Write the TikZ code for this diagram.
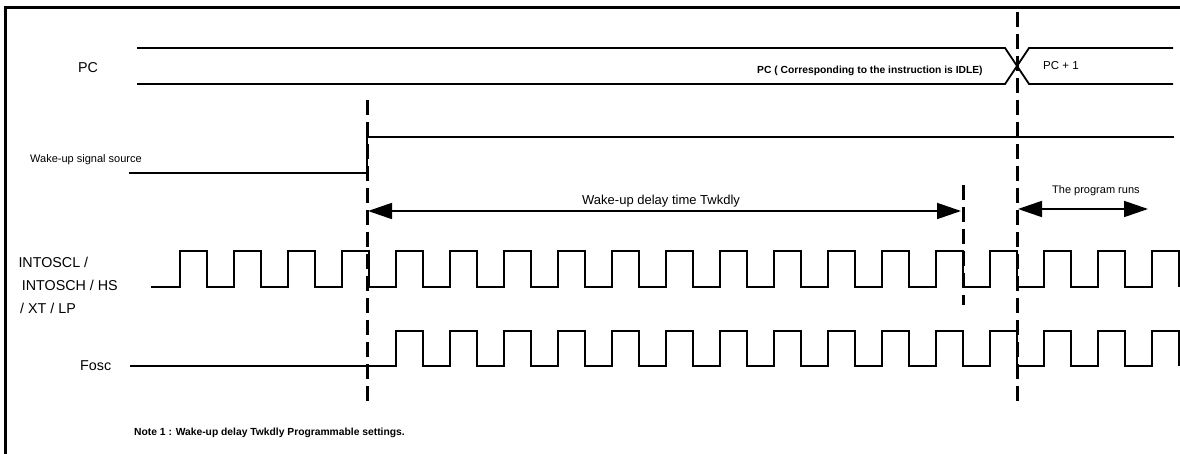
\documentclass[tikz,border=0pt]{standalone}
\usepackage{fontspec}
\setmainfont{Liberation Sans}
\usetikzlibrary{arrows.meta}
\begin{document}
\begin{tikzpicture}[x=1pt,y=-1pt,
  frame/.style={line width=3pt},
  sig/.style={line width=1.8pt, line join=miter},
  bus/.style={line width=1.8pt},
  vdash/.style={line width=3pt, dash pattern=on 15pt off 7pt},
  dim/.style={line width=1.8pt, {Triangle[length=24pt,width=16pt]}-{Triangle[length=24pt,width=16pt]}},
  lab/.style={anchor=base west, inner sep=0pt, font=\fontsize{14.3}{16}\selectfont},
  slab/.style={anchor=base west, inner sep=0pt, font=\fontsize{11}{13}\selectfont},
  blab/.style={anchor=base west, inner sep=0pt, font=\fontsize{10.3}{12}\selectfont\bfseries}]
\useasboundingbox (0,0) rectangle (1180,454);
\fill[white] (0,0) rectangle (1180,454);
% frame (top and left edges visible)
\draw[frame] (5,454) -- (5,8) -- (1180,8);

% labels
\node[lab] (lpc) at (78,72.7) {PC};
\node[slab] (lwk) at (30,162.3) {Wake-up signal source};
\node[lab] (lin1) at (18.3,267.3) {INTOSCL /};
\node[lab] (lin2) at (21.7,290.7) {INTOSCH / HS};
\node[lab] (lin3) at (20,313.3) {/ XT / LP};
\node[lab] (lfo) at (80,370) {Fosc};
\node[blab] (lidle) at (757,73.3) {PC ( Corresponding to the instruction is IDLE)};
\node[anchor=base west, inner sep=0pt, font=\fontsize{11.5}{13}\selectfont] (lpc1) at (1043,70) {PC + 1};
\node[anchor=base west, inner sep=0pt, font=\fontsize{13}{15}\selectfont] (ldly) at (582,204.3) {Wake-up delay time Twkdly};
\node[slab] (lrun) at (1052,194) {The program runs};
\node[blab] (lnote) at (134,435.5) {Note 1 : Wake-up delay Twkdly Programmable settings.};

% PC bus
\draw[bus] (137,48) -- (1005,48) -- (1029,84) -- (1173,84);
\draw[bus] (137,84) -- (1005,84) -- (1029,48) -- (1173,48);

% wake-up signal
\draw[sig] (129,173) -- (367,173) -- (367,137) -- (1174,137);

% INTOSC clock
\draw[sig] (151,287) foreach \k in {0,...,18} {
  -- ({180+54*\k},287) -- ({180+54*\k},251) -- ({207+54*\k},251) -- ({207+54*\k},287) };

% Fosc clock
\draw[sig] (130,366) foreach \k in {4,...,18} {
  -- ({180+54*\k},366) -- ({180+54*\k},331) -- ({207+54*\k},331) -- ({207+54*\k},366) };

% dashed markers
\coordinate (d1t) at (367,100); \coordinate (d1b) at (367,402);
\coordinate (d2t) at (963,185); \coordinate (d2b) at (963,305);
\coordinate (d3t) at (1017,12); \coordinate (d3b) at (1017,404);
\draw[vdash] (d1t) -- (d1b);
\draw[vdash] (d2t) -- (d2b);
\draw[vdash] (d3t) -- (d3b);

% dimension arrows
\coordinate (w1) at (368,211); \coordinate (w2) at (961,211);
\draw[dim] (w1) -- (w2);
\coordinate (r1) at (1018,209); \coordinate (r2) at (1148,209);
\draw[dim] (r1) -- (r2);
\end{tikzpicture}
\end{document}
